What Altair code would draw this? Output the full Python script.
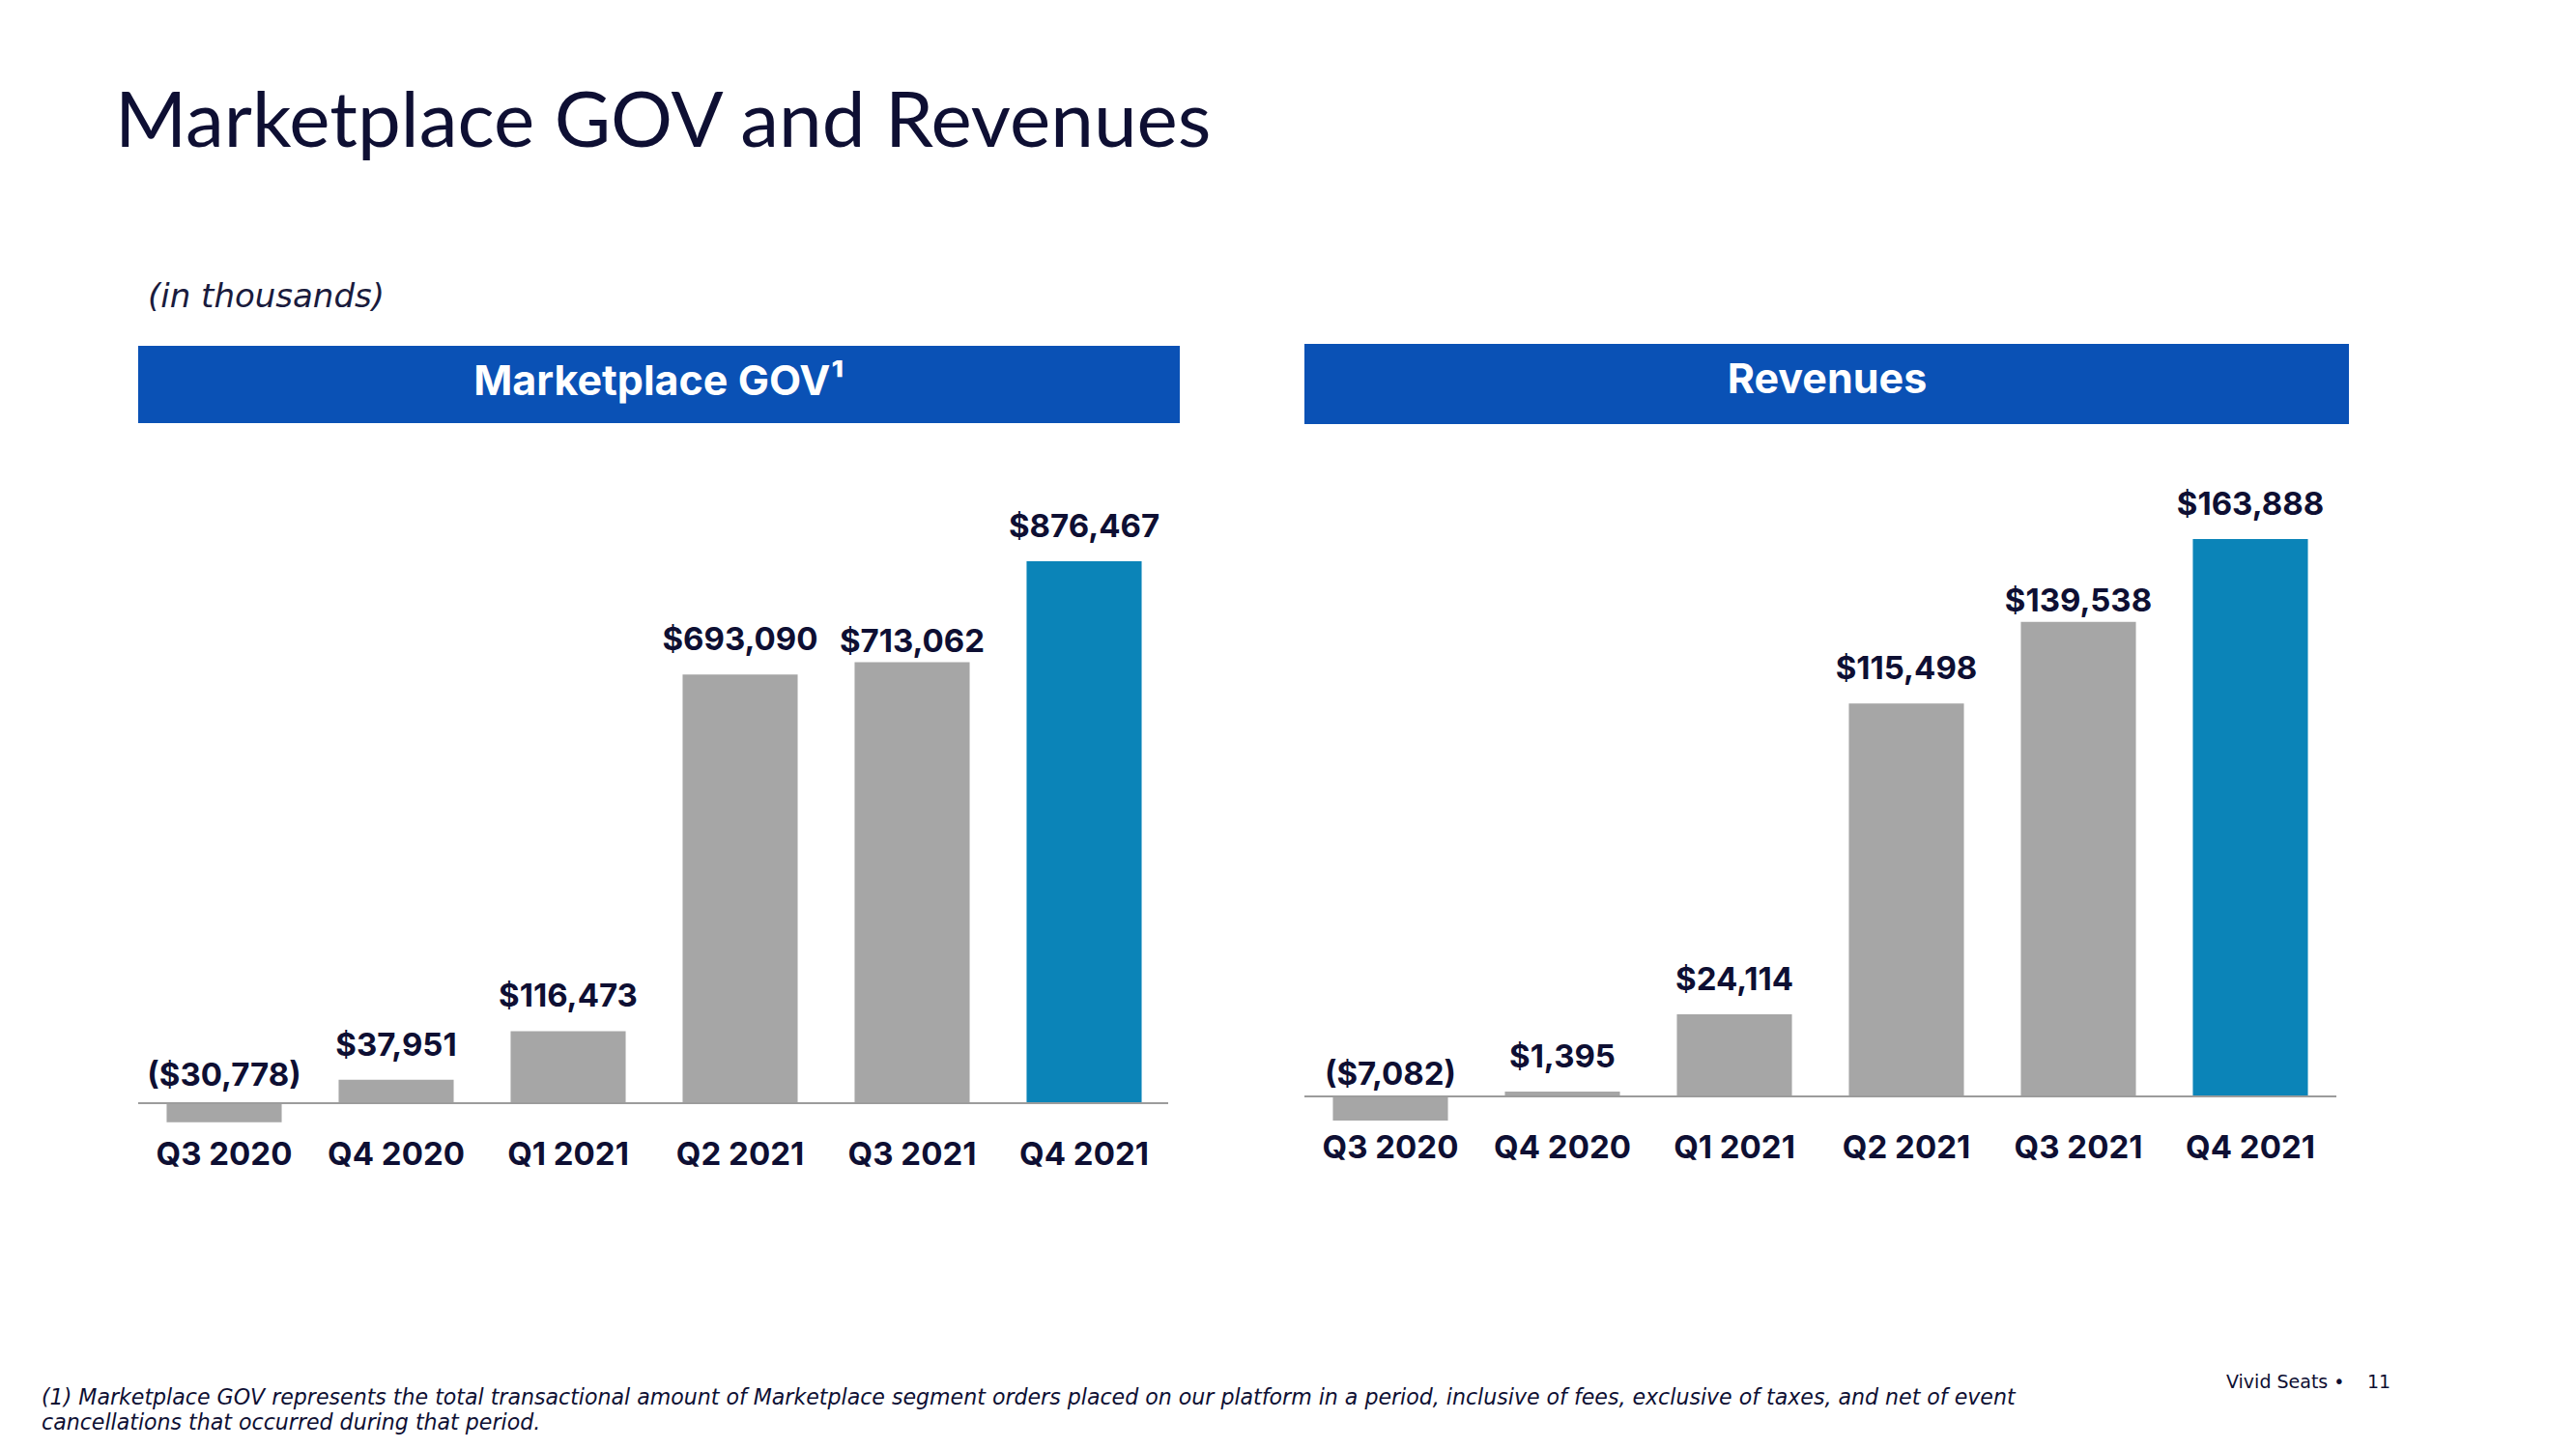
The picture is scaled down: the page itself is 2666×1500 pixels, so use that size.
import altair as alt
import pandas as pd

quarters = ["Q3 2020", "Q4 2020", "Q1 2021", "Q2 2021", "Q3 2021", "Q4 2021"]
gov_values = [-30778, 37951, 116473, 693090, 713062, 876467]
revenue_values = [-7082, 1395, 24114, 115498, 139538, 163888]
highlight_quarter = "Q4 2021"
low_label_quarter = "Q3 2021"

title_text = "Marketplace GOV and Revenues"
subtitle_text = "(in thousands)"
gov_header = "Marketplace GOV\u00b9"
rev_header = "Revenues"
footnote_1 = ("(1) Marketplace GOV represents the total transactional amount of Marketplace segment orders "
              "placed on our platform in a period, inclusive of fees, exclusive of taxes, and net of event")
footnote_2 = "cancellations that occurred during that period."
brand_text = "Vivid Seats  \u2022"
page_text = "11"

NAVY = "#0E0F33"
GRAY = "#A6A6A6"
BLUE = "#0B84B8"
HEADER = "#0A51B5"
LINE = "#9C9C9C"
BOLD_FONT = "Inter"
TEXT_FONT = "Lato"
WIDE_FONT = "DejaVu Sans"


def fmt(v):
    return f"${v:,}" if v >= 0 else f"(${-v:,})"


def text_mark(txt, x, y, size, font=TEXT_FONT, weight="normal", style="normal",
              align="left", baseline="alphabetic", color=NAVY):
    d = pd.DataFrame({"t": [txt]})
    return alt.Chart(d).mark_text(
        font=font, fontSize=size, fontWeight=weight, fontStyle=style,
        align=align, baseline=baseline, color=color
    ).encode(x=alt.value(x), y=alt.value(y), text="t:N")


def panel(values, header, ydom, width, height, header_w, header_y0, header_y1,
          header_cx, header_cy, rule_w, neg_dy, extras):
    df = pd.DataFrame({
        "quarter": quarters,
        "value": values,
        "label": [fmt(v) for v in values],
        "zero": [0] * len(values),
    })
    x = alt.X("quarter:N", sort=quarters,
              scale=alt.Scale(paddingInner=0.331, paddingOuter=0.1655),
              axis=alt.Axis(title=None, labelAngle=0, domain=False, ticks=False,
                            grid=False, labelPadding=9, labelFont=BOLD_FONT,
                            labelFontWeight="bold", labelFontSize=33, labelColor=NAVY))
    yscale = alt.Scale(domain=ydom, nice=False, zero=False)
    base = alt.Chart(df)

    hd = pd.DataFrame({"h": [header]})
    head_rect = alt.Chart(hd).mark_rect(color=HEADER).encode(
        x=alt.value(0), x2=alt.value(header_w), y=alt.value(header_y0), y2=alt.value(header_y1))
    head_text = text_mark(header, header_cx, header_cy, 43, font=BOLD_FONT, weight="bold",
                          align="center", baseline="middle", color="white")
    bars = base.mark_bar().encode(
        x=x,
        y=alt.Y("value:Q", scale=yscale, axis=None),
        y2=alt.Y2("zero:Q"),
        color=alt.condition(alt.datum.quarter == highlight_quarter, alt.value(BLUE), alt.value(GRAY)),
    )
    zd = pd.DataFrame({"zero": [0]})
    rule = alt.Chart(zd).mark_rule(color=LINE, strokeWidth=2).encode(
        y=alt.Y("zero:Q", scale=yscale, axis=None), x=alt.value(0), x2=alt.value(rule_w))
    label_style = dict(font=BOLD_FONT, fontWeight="bold", fontSize=33, color=NAVY,
                       baseline="alphabetic")
    pos_labels = base.transform_filter(
        (alt.datum.value >= 0) & (alt.datum.quarter != low_label_quarter)
    ).mark_text(dy=-25, **label_style).encode(
        x=x, y=alt.Y("value:Q", scale=yscale, axis=None), text="label:N")
    low_labels = base.transform_filter(
        (alt.datum.value >= 0) & (alt.datum.quarter == low_label_quarter)
    ).mark_text(dy=-11, **label_style).encode(
        x=x, y=alt.Y("value:Q", scale=yscale, axis=None), text="label:N")
    neg_labels = base.transform_filter(alt.datum.value < 0).mark_text(
        dy=neg_dy, **label_style
    ).encode(x=x, y=alt.Y("zero:Q", scale=yscale, axis=None), text="label:N")
    return alt.layer(head_rect, head_text, bars, rule, pos_labels, low_labels, neg_labels,
                     *extras).properties(width=width, height=height)


left_extras = [
    text_mark(title_text, -24, -204, 80, font=TEXT_FONT),
    text_mark(subtitle_text, 10, -38, 34, font=WIDE_FONT, style="italic", color="#1A1B3D"),
    text_mark(footnote_1, -100, 1098, 22.1, font=WIDE_FONT, style="italic"),
    text_mark(footnote_2, -100, 1124, 22.1, font=WIDE_FONT, style="italic"),
]
right_extras = [
    text_mark(brand_text, 954, 1081, 19, font=WIDE_FONT),
    text_mark(page_text, 1100, 1081, 19, font=WIDE_FONT),
]

left = panel(gov_values, gov_header, [-43745, 1227991], 1068, 814,
             1078, 2, 82, 539, 40, 1066, -18, left_extras)
right = panel(revenue_values, rev_header, [-7953, 221262], 1068, 807,
              1081, 0, 83, 541, 38, 1068, -12, right_extras)

chart = alt.hconcat(left, right, spacing=139, bounds="flush").properties(
    padding={"left": 35, "top": 80, "right": 10, "bottom": 10},
    background="white",
).configure_view(stroke=None, strokeWidth=0)

chart.save("out.html", embed_options={"renderer": "svg", "actions": False})
